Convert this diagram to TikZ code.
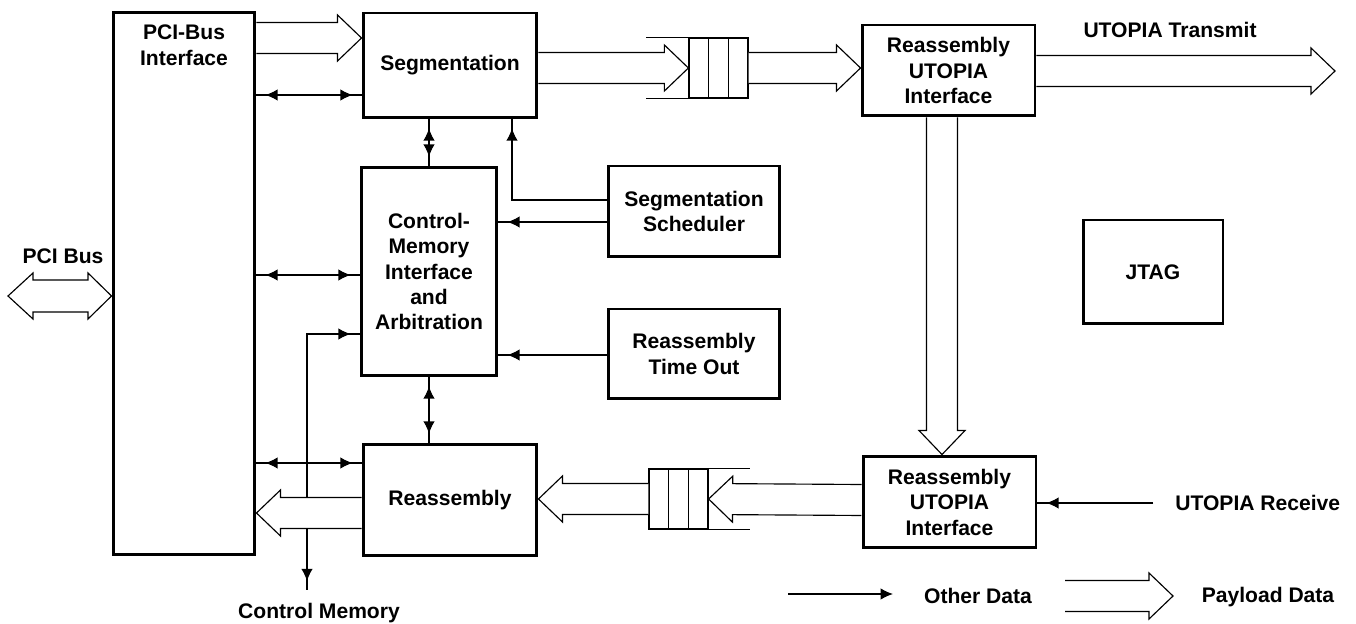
\documentclass[tikz,border=0pt]{standalone}
\usepackage{fontspec}
\setmainfont{Liberation Sans}
\usepackage{tikz}
\usetikzlibrary{arrows.meta,calc,positioning}

\begin{document}
\begin{tikzpicture}[x=0.02cm,y=-0.02cm,>={Latex[length=7pt,width=6.5pt]},
	blk/.style={draw,line width=1.7pt,align=center,inner sep=0pt,font=\fontsize{12}{14.5}\selectfont\bfseries},
	lbl/.style={align=center,inner sep=0pt,font=\fontsize{12}{14.5}\selectfont\bfseries},
	fifo/.style={draw,line width=0.7pt,minimum width=1.18cm,minimum height=1.2cm,inner sep=0pt},
	sig/.style={line width=0.8pt,postaction={draw,->,shorten >=5pt}},
	sigbi/.style={line width=0.8pt,postaction={draw,<->,shorten >=5pt,shorten <=5pt}},
	payload/.style={line width=0.65pt,fill=white,
		to path={let \p1=(\tikztostart),\p2=(\tikztotarget),\n1={atan2(\y2-\y1,\x2-\x1)} in
			($(\p1)+(\n1+90:0.31cm)$) -- ($(\p2)+(\n1+180:0.48cm)+(\n1+90:0.31cm)$)
			-- ($(\p2)+(\n1+180:0.48cm)+(\n1+90:0.46cm)$) -- (\p2)
			-- ($(\p2)+(\n1+180:0.48cm)+(\n1-90:0.46cm)$)
			-- ($(\p2)+(\n1+180:0.48cm)+(\n1-90:0.31cm)$) -- ($(\p1)+(\n1-90:0.31cm)$)}}]
	\useasboundingbox (0,0) rectangle (1356,624);
	\node[blk,minimum width=2.84cm,minimum height=10.86cm] (pci) at (184,283.5) {};
	\node[lbl,below=0.28cm of pci.north] (pcit) {PCI-Bus\\Interface};
	\node[blk,minimum width=3.48cm,minimum height=2.1cm] (seg) at (450,65.5) {Segmentation};
	\node[blk,minimum width=2.72cm,minimum height=4.18cm] (ctrl) at (429,271.5) {Control-\\Memory\\Interface\\and\\Arbitration};
	\node[blk,minimum width=3.44cm,minimum height=1.82cm] (sched) at (694,211.5) {Segmentation\\Scheduler};
	\node[blk,minimum width=3.44cm,minimum height=1.8cm] (rto) at (694,354) {Reassembly\\Time Out};
	\node[blk,minimum width=3.48cm,minimum height=2.24cm] (reas) at (450,500) {Reassembly};
	\node[blk,minimum width=3.46cm,minimum height=1.82cm] (ruiT) at (948.5,70.5) {Reassembly\\UTOPIA\\Interface};
	\node[blk,minimum width=3.46cm,minimum height=1.84cm] (ruiR) at (949.5,502) {Reassembly\\UTOPIA\\Interface};
	\node[blk,minimum width=2.8cm,minimum height=2.08cm] (jtag) at (1153,272) {JTAG};
	\node[fifo] (qtx) at (718.5,68) {};
	\node[fifo] (qrx) at (678.5,499) {};
	\foreach \f in {0.333,0.667} {
		\draw[line width=0.7pt] ($(qtx.north west)!\f!(qtx.north east)$) -- ($(qtx.south west)!\f!(qtx.south east)$);
		\draw[line width=0.7pt] ($(qrx.north west)!\f!(qrx.north east)$) -- ($(qrx.south west)!\f!(qrx.south east)$);
	}
	\draw[line width=0.7pt] (qtx.north west) -- ++(-42,0) (qtx.south west) -- ++(-42,0);
	\draw[line width=0.7pt] (qrx.north east) -- ++(41,0) (qrx.south east) -- ++(41,0);
	\node[lbl] (bus) at (63,256) {PCI Bus};
	\node[lbl] (txl) at (1170,30) {UTOPIA Transmit};
	\node[lbl] (cml) at (319,613) {Control Memory};
	\coordinate (cmem) at (307,590);
	\coordinate (rcv) at (1153,503);
	\node[lbl,right=0.44cm of rcv] (rcvl) {UTOPIA Receive};
	\coordinate (tx) at (1335,71);
	\draw[sigbi] (pci.east |- 0,95) -- (seg.west |- 0,95);
	\draw[sigbi] (pci.east |- 0,275) -- (ctrl.west |- 0,275);
	\draw[sigbi] (pci.east |- 0,463) -- (reas.west |- 0,463);
	\draw[sigbi] (ctrl.north) -- (ctrl.north |- seg.south);
	\draw[sigbi] (ctrl.south) -- (ctrl.south |- reas.north);
	\draw[sig] (sched.west |- 0,200) -| (seg.south -| 512,0);
	\draw[sig] (sched.west |- 0,222) -- (ctrl.east |- 0,222);
	\draw[sig] (rto.west |- 0,355) -- (ctrl.east |- 0,355);
	\draw[sigbi] (cmem) |- (ctrl.west |- 0,334);
	\draw[sig] (rcv) -- (ruiR.east |- rcv);
	\draw[line width=0.65pt,fill=white] (8,296) -- (33,273) -- (33,280) -- (88,280) -- (88,273) -- (pci.west |- 0,296)
		-- (88,319) -- (88,312) -- (33,312) -- (33,319) -- cycle;
	\draw[payload] (pci.east |- 0,38) to (seg.west |- 0,38);
	\draw[payload] (seg.east |- 0,68) to (qtx.west);
	\draw[payload] (qtx.east) to (ruiT.west |- 0,68);
	\draw[payload] (ruiT.east |- 0,71) to (tx);
	\draw[payload] (ruiT.south -| 942,0) to (ruiR.north -| 942,0);
	\draw[payload] (ruiR.west |- 0,500) to (qrx.east);
	\draw[payload] (qrx.west) to (reas.east |- 0,499);
	\draw[payload] (reas.west |- 0,513) to (pci.east |- 0,513);
	\coordinate (od1) at (788,594);
	\coordinate (od2) at (893,594);
	\draw[line width=0.8pt,->] (od1) -- (od2);
	\node[lbl] (odl) at (978,596) {Other Data};
	\coordinate (pd1) at (1065,596);
	\coordinate (pd2) at (1173,596);
	\draw[payload] (pd1) to (pd2);
	\node[lbl] (pdl) at (1268,597) {Payload Data};
\end{tikzpicture}
\end{document}
